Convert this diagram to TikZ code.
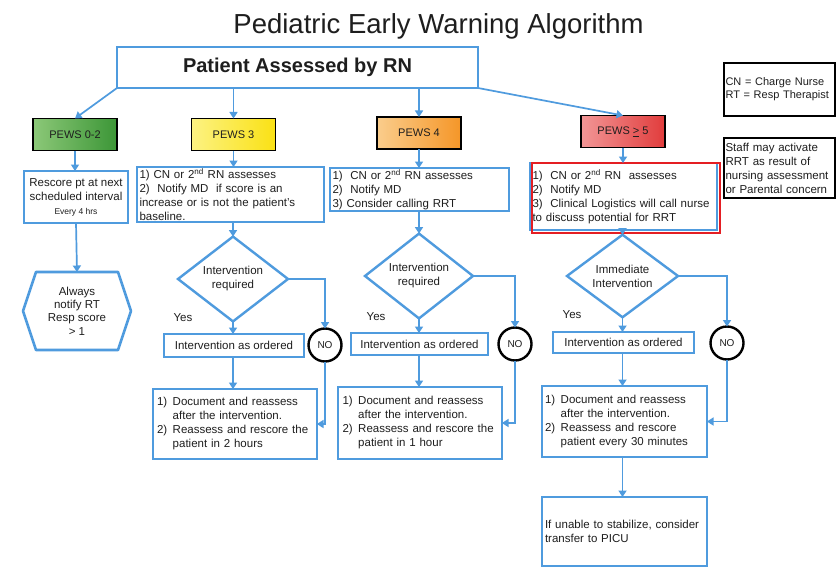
\documentclass[tikz,border=0pt]{standalone}
\usepackage{fontspec}
\setmainfont{Liberation Sans}
\usetikzlibrary{arrows.meta,shapes.geometric}
\definecolor{bl}{RGB}{79,155,222}
\definecolor{txt}{RGB}{30,30,30}
\definecolor{hred}{RGB}{228,30,35}
\definecolor{gA}{RGB}{140,200,120}
\definecolor{gB}{RGB}{60,150,55}
\definecolor{yA}{RGB}{252,242,130}
\definecolor{yB}{RGB}{250,225,20}
\definecolor{oA}{RGB}{250,205,140}
\definecolor{oB}{RGB}{245,150,40}
\definecolor{rA}{RGB}{242,150,150}
\definecolor{rB}{RGB}{225,60,60}
\begin{document}
\begin{tikzpicture}[x=1pt,y=-1pt,
  font=\fontsize{11.5}{14}\selectfont, text=txt,
  bbox/.style={draw=bl, line width=2.6pt, fill=white, inner sep=0pt, outer sep=0pt},
  lbox/.style={bbox, align=left, inner xsep=2.5pt},
  pews/.style={draw=black, line width=1.6pt, inner sep=0pt, outer sep=0pt, minimum width=84pt, minimum height=32pt, font=\fontsize{11}{13}\selectfont},
  dia/.style={diamond, draw=bl, line width=2.4pt, fill=white, inner sep=0pt, outer sep=0pt, align=center},
  nocirc/.style={circle, draw=black, line width=2.4pt, fill=white, minimum size=33pt, inner sep=0pt, outer sep=0pt, font=\fontsize{10}{12}\selectfont},
  arr/.style={draw=bl, line width=1.7pt, -{Triangle[width=8pt,length=6.5pt]}},
  leg/.style={draw=black, line width=1.3pt, align=left, inner sep=0pt, inner xsep=1.5pt, outer sep=0pt}
]
\fill[white] (0,0) rectangle (837,567);
\useasboundingbox (0,0) rectangle (837,567);

% title and top box
\node[anchor=base, font=\fontsize{27.5}{30}\selectfont] (title) at (438.5,34) {Pediatric Early Warning Algorithm};
\node[bbox, minimum width=361pt, minimum height=41pt, font=\fontsize{20}{24}\selectfont\bfseries] (top) at (297.5,67.5) {Patient Assessed by RN};

% legends
\node[leg, minimum width=111pt, minimum height=53pt, font=\fontsize{11}{13}\selectfont, text width=108pt] (leg1) at (779.5,89.5) {CN = Charge Nurse\\RT = Resp Therapist};
\node[leg, minimum width=111pt, minimum height=60pt, text width=108pt] (leg2) at (779.5,168) {Staff may activate\\RRT as result of\\nursing assessment\\or Parental concern};

% PEWS boxes
\node[pews, left color=gA, right color=gB] (p02) at (75,134.5) {PEWS 0-2};
\node[pews, left color=yA, right color=yB] (p3) at (233.5,134.5) {PEWS 3};
\node[pews, left color=oA, right color=oB] (p4) at (419,133) {PEWS 4};
\node[pews, left color=rA, right color=rB] (p5) at (623,131.5) {PEWS \underline{>} 5};

% column 1
\node[bbox, minimum width=104pt, minimum height=52pt, align=center] (res) at (76,197) {Rescore pt at next\\scheduled interval\\{\fontsize{8.5}{10}\selectfont Every 4 hrs}};
\draw[bl, line width=2.6pt, fill=white, line join=round] (23,311) -- (36,272) -- (118,272) -- (131,311) -- (118,350) -- (36,350) -- cycle;
\coordinate (hextop) at (77,272);
\node[align=center, font=\fontsize{11.5}{13.3}\selectfont] (hex) at (77,311) {Always\\notify RT\\Resp score\\> 1};

% text boxes under PEWS
\node[lbox, minimum width=187pt, minimum height=55pt, text width=182pt] (t3) at (230.5,194.5) {1) CN or 2\textsuperscript{nd} RN assesses\\2)~ Notify MD~ if score is an\\increase or is not the patient's\\baseline.};
\node[lbox, minimum width=179pt, minimum height=43pt, text width=174pt] (t4) at (419.5,189.5) {1)~ CN or 2\textsuperscript{nd} RN assesses\\2)~ Notify MD\\3) Consider calling RRT};
\node[lbox, minimum width=187pt, minimum height=67pt, text width=182pt] (t5) at (623.5,196.5) {1)~ CN or 2\textsuperscript{nd} RN~ assesses\\2)~ Notify MD\\3)~ Clinical Logistics will call nurse\\to discuss potential for RRT};
\draw[hred, line width=1.8pt] (532,163) rectangle (720,233);

% diamonds
\node[dia, minimum width=110pt, minimum height=62pt] (d1) at (233,279) {Intervention\\required};
\node[dia, minimum width=108pt, minimum height=62pt] (d2) at (419,276) {Intervention\\required};
\node[dia, minimum width=111pt, minimum height=62pt] (d3) at (622.5,276) {Immediate\\Intervention};

% yes labels
\node (y1) at (183,318) {Yes};
\node (y2) at (376,317) {Yes};
\node (y3) at (572,315) {Yes};

% intervention boxes
\node[bbox, minimum width=140pt, minimum height=23pt] (i1) at (234,345.5) {Intervention as ordered};
\node[bbox, minimum width=137pt, minimum height=22pt] (i2) at (419.5,344) {Intervention as ordered};
\node[bbox, minimum width=141pt, minimum height=21pt] (i3) at (623.5,342.5) {Intervention as ordered};

% NO circles
\node[nocirc] (n1) at (325,345) {NO};
\node[nocirc] (n2) at (515,344) {NO};
\node[nocirc] (n3) at (727,343) {NO};

% document boxes
\node[lbox, inner xsep=4pt, minimum width=164pt, minimum height=70pt, text width=156pt] (doc1) at (235,424) {\begin{tabular}{@{}l@{\hspace{5.5pt}}l@{}}1) & Document and reassess\\ & after the intervention.\\ 2) & Reassess and rescore the\\ & patient in 2 hours\end{tabular}};
\node[lbox, inner xsep=4.5pt, minimum width=164pt, minimum height=72pt, text width=155pt] (doc2) at (420,423) {\begin{tabular}{@{}l@{\hspace{5.5pt}}l@{}}1) & Document and reassess\\ & after the intervention.\\ 2) & Reassess and rescore the\\ & patient in 1 hour\end{tabular}};
\node[lbox, inner xsep=3pt, minimum width=165pt, minimum height=71pt, text width=159pt] (doc3) at (624.5,421.5) {\begin{tabular}{@{}l@{\hspace{5.5pt}}l@{}}1) & Document and reassess\\ & after the intervention.\\ 2) & Reassess and rescore\\ & patient every 30 minutes\end{tabular}};
\node[lbox, inner xsep=3pt, minimum width=165pt, minimum height=69pt, text width=159pt] (picu) at (624.5,531.5) {If unable to stabilize, consider\\transfer to PICU};

% connectors
\draw[arr] (top.south west) -- (p02.north);
\draw[arr] (top.south -| p3.north) -- (p3.north);
\draw[arr] (top.south -| p4.north) -- (p4.north);
\draw[arr] (top.south east) -- (p5.north);

\draw[arr] (p02.south) -- (p02.south |- res.north);
\draw[arr] (res.south) -- (hextop);

\draw[arr] (p3.south) -- (p3.south |- t3.north);
\draw[arr] (t3.south -| d1.north) -- (d1.north);
\draw[arr] (d1.east) -| (n1.north);
\draw[arr] (d1.south) -- (d1.south |- i1.north);
\draw[arr] (i1.south -| d1.south) -- (d1.south |- doc1.north);
\draw[arr] (n1.south) |- (doc1.east);

\draw[arr] (p4.south) -- (p4.south |- t4.north);
\draw[arr] (t4.south -| d2.north) -- (d2.north);
\draw[arr] (d2.east) -| (n2.north);
\draw[arr] (d2.south) -- (d2.south |- i2.north);
\draw[arr] (i2.south -| d2.south) -- (d2.south |- doc2.north);
\draw[arr] (n2.south) |- (doc2.east);

\draw[arr] (p5.south) -- (p5.south |- t5.north);
\draw[arr] (t5.south -| d3.north) -- (d3.north);
\draw[arr] (d3.east) -| (n3.north);
\draw[arr] (d3.south) -- (d3.south |- i3.north);
\draw[arr] (i3.south -| d3.south) -- (d3.south |- doc3.north);
\draw[arr] (n3.south) |- (doc3.east);
\draw[arr] (doc3.south -| d3.south) -- (d3.south |- picu.north);
\end{tikzpicture}
\end{document}
